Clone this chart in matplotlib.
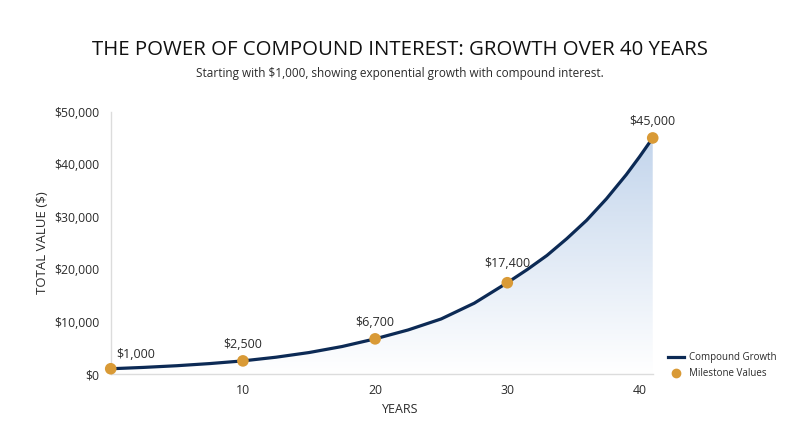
import matplotlib.pyplot as plt
import numpy as np
from matplotlib.lines import Line2D
from matplotlib.colors import LinearSegmentedColormap

plt.rcParams['font.family'] = ['Open Sans', 'DejaVu Sans']

# curve (years, dollars)
curve_years = [0, 2.5, 5, 7.5, 10, 12.5, 15, 17.5, 20, 22.5, 25, 27.5, 30,
               31.5, 33, 34.5, 36, 37.5, 39, 40, 41]
curve_values = [1000, 1260, 1580, 1990, 2500, 3200, 4090, 5240, 6700, 8400,
                10500, 13500, 17400, 19900, 22600, 25800, 29300, 33400, 38000,
                41400, 45000]

# milestone markers
milestone_years = [0, 10, 20, 30, 41]
milestone_values = [1000, 2500, 6700, 17400, 45000]
milestone_labels = ['$1,000', '$2,500', '$6,700', '$17,400', '$45,000']

x_ticks = [10, 20, 30, 40]
y_ticks = [0, 10000, 20000, 30000, 40000, 50000]
y_tick_labels = ['$0', '$10,000', '$20,000', '$30,000', '$40,000', '$50,000']

navy = '#0c2a55'
gold = '#d99a36'
text_col = '#2b2b2b'

fig = plt.figure(figsize=(8, 4.47), dpi=100)
ax = fig.add_axes([0.1384, 0.1633, 0.6775, 0.5868])

ax.set_xlim(0, 41)
ax.set_ylim(0, 50000)

# gradient fill under the curve
poly = ax.fill_between(curve_years, curve_values, 0, color='none')
grad = np.linspace(0, 1, 256).reshape(-1, 1)
cmap = LinearSegmentedColormap.from_list('g', ['#ffffff', '#c3d5ec'])
img = ax.imshow(grad, cmap=cmap, aspect='auto', origin='lower',
                extent=[0, 41, 0, 45000], zorder=1)
img.set_clip_path(poly.get_paths()[0], transform=ax.transData)

ax.plot(curve_years, curve_values, color=navy, lw=2.3, zorder=3,
        solid_capstyle='round', solid_joinstyle='round')
ax.scatter(milestone_years, milestone_values, s=70, color=gold, zorder=4,
           clip_on=False, edgecolors='none')

for i, (xv, yv, lab) in enumerate(zip(milestone_years, milestone_values, milestone_labels)):
    if i == 0:
        ax.annotate(lab, (xv, yv), xytext=(4, 10), textcoords='offset points',
                    ha='left', va='center', fontsize=9, color=text_col)
    else:
        dy = 13.5 if i == 3 else 12
        ax.annotate(lab, (xv, yv), xytext=(0, dy), textcoords='offset points',
                    ha='center', va='center', fontsize=9, color=text_col)

ax.set_xticks(x_ticks)
ax.set_yticks(y_ticks)
ax.set_yticklabels(y_tick_labels)
ax.tick_params(length=0, labelsize=8.8, colors=text_col, pad=8)
ax.tick_params(axis='x', pad=7)

for s in ['top', 'right']:
    ax.spines[s].set_visible(False)
for s in ['left', 'bottom']:
    ax.spines[s].set_color('#dcdcdc')
    ax.spines[s].set_linewidth(1)

ax.set_ylabel('TOTAL VALUE ($)', fontsize=9.5, color=text_col, labelpad=4)
fig.text(0.5, 0.085, 'YEARS', ha='center', va='center', fontsize=9, color=text_col)

fig.text(0.5, 0.889, 'THE POWER OF COMPOUND INTEREST: GROWTH OVER 40 YEARS',
         ha='center', va='center', fontsize=14.7, color='#111111')
fig.text(0.5, 0.835, 'Starting with $1,000, showing exponential growth with compound interest.',
         ha='center', va='center', fontsize=8.5, color=text_col)

handles = [Line2D([], [], color=navy, lw=2.3),
           Line2D([], [], color=gold, marker='o', linestyle='none', markersize=6)]
fig.legend(handles, ['Compound Growth', 'Milestone Values'],
           loc='upper left', bbox_to_anchor=(0.824, 0.232), frameon=False,
           fontsize=7, handlelength=1.7, handletextpad=0.5, labelspacing=0.55,
           labelcolor=text_col)

fig.savefig('out.png', dpi=100)
